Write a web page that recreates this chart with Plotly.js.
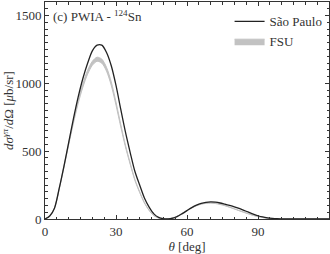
<!DOCTYPE html>
<html><head><meta charset="utf-8">
<script src="https://cdn.plot.ly/plotly-3.0.1.min.js"></script>
<style>html,body{margin:0;padding:0;background:#fff}#c{width:330px;height:254px}</style>
</head><body><div id="c"></div>
<script>
const theta = [0,2,4,6,8,10,12,14,16,18,20,22,24,26,28,30,32,34,36,38,40,42,44,46,48,50,52,54,56,58,60,62,64,66,68,70,72,74,76,78,80,82,84,86,88,90,92,94,96,98,100,102,104,106,108,110,112,114,116,118,120];
const saoPaulo = [0,22,80,225,388,563,738,898,1036,1148,1240,1282,1282,1228,1130,985,810,640,490,350,250,155,88,38,12,2,0.5,6,20,40,62,84,102,115,123,126,124,118,109,100,90,78,64,50,36,24,15,9,5,2,1,0.5,0.5,0.6,0.8,1,1.2,1.3,1.3,1.3,1.3];
const fsuUpper = [0,22,81,225,390,560,725,873,998,1096,1163,1193,1179,1118,1011,862,699,545,413,292,201,122,65,25,7,0.5,2,8,22,43,63,83,99,111,119,121,118,111,100,88,76,63,51,39,27,18,11,6,3,1,0.5,0.3,0.3,0.5,0.7,0.9,1,1,1,1,1];
const fsuLower = [0,22,79,219,380,546,705,851,972,1068,1133,1163,1149,1090,985,840,681,531,403,284,195,118,63,25,7,0.5,2,8,22,41,61,81,97,109,115,117,114,107,98,86,74,61,49,37,27,18,11,6,3,1,0.5,0.3,0.3,0.5,0.7,0.9,1,1,1,1,1];
const xTicks = [0,30,60,90];
const yTicks = [0,500,1000,1500];

const gray = '#c2c2c2';
const traces = [
  {x: theta, y: fsuLower, type:'scatter', mode:'lines', line:{color:gray, width:1, shape:'spline', smoothing:0.8}, showlegend:false, hoverinfo:'skip'},
  {x: theta, y: fsuUpper, type:'scatter', mode:'lines', name:'FSU', fill:'tonexty', fillcolor:gray, line:{color:gray, width:1, shape:'spline', smoothing:0.8}},
  {x: theta, y: saoPaulo, type:'scatter', mode:'lines', name:'São Paulo', line:{color:'#222', width:1.3, shape:'spline', smoothing:0.8}}
];
const font = {family:'Liberation Serif, DejaVu Serif, serif', size:13, color:'#333'};
const axisCommon = {
  showgrid:false, zeroline:false, showline:true, linecolor:'#333', linewidth:1,
  mirror:'allticks', ticks:'inside', ticklen:4, tickcolor:'#333', tickwidth:1,
  tickfont:font
};
const layout = {
  width:330, height:254,
  margin:{l:45, r:1, t:2, b:35},
  paper_bgcolor:'#fff', plot_bgcolor:'#fff',
  font:font,
  xaxis: Object.assign({}, axisCommon, {
    range:[0,120], tickvals:xTicks, ticktext:xTicks.map(String),
    minor:{dtick:5, tick0:0, ticks:'inside', ticklen:2.5, tickcolor:'#333'},
    title:{text:'<i>θ</i> [deg]', font:font, standoff:3}
  }),
  yaxis: Object.assign({}, axisCommon, {
    range:[0,1600], tickvals:yTicks, ticktext:yTicks.map(String),
    minor:{dtick:50, tick0:0, ticks:'inside', ticklen:2.5, tickcolor:'#333'},
    title:{text:'<i>dσ</i><sup><i>γπ</i></sup>/<i>d</i>Ω [<i>μ</i>b/sr]', font:font, standoff:5}
  }),
  legend:{x:0.995, y:0.98, xanchor:'right', yanchor:'top', bgcolor:'rgba(0,0,0,0)',
          font:font, traceorder:'reversed', itemwidth:30, tracegroupgap:0},
  annotations:[{xref:'paper', yref:'paper', x:0.02, y:0.98, xanchor:'left', yanchor:'top',
    text:'(c) PWIA - <sup>124</sup>Sn', showarrow:false, font:font}],
  showlegend:true
};
Plotly.newPlot('c', traces, layout, {staticPlot:true, displayModeBar:false});
</script></body></html>
